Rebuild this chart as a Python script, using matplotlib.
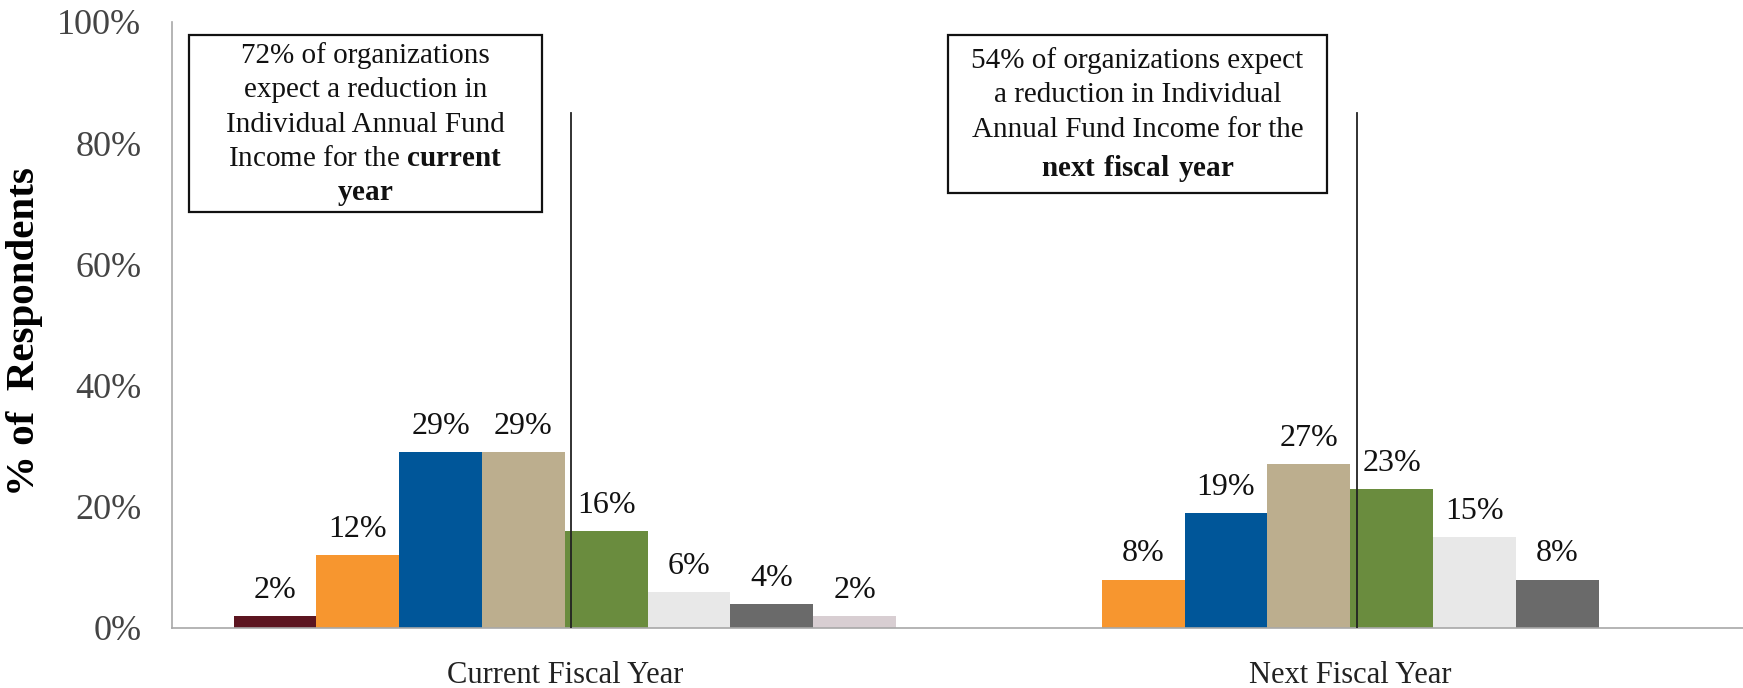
import matplotlib.pyplot as plt
from matplotlib.patches import Rectangle

plt.rcParams['font.family'] = 'Liberation Serif'
plt.rcParams['mathtext.fontset'] = 'custom'
plt.rcParams['mathtext.rm'] = 'Liberation Serif'
plt.rcParams['mathtext.bf'] = 'Liberation Serif:bold'

# Data
categories = ['Current Fiscal Year', 'Next Fiscal Year']
current_values = [2, 12, 29, 29, 16, 6, 4, 2]
current_colors = ['#5C1520', '#F7962F', '#005699', '#BCAE8E',
                  '#6A8C3E', '#E8E8E8', '#6A6A6A', '#D8CED2']
next_values = [8, 19, 27, 23, 15, 8]
next_colors = ['#F7962F', '#005699', '#BCAE8E', '#6A8C3E', '#E8E8E8', '#6A6A6A']
y_ticks = [0, 20, 40, 60, 80, 100]

note_current = ('72% of organizations\nexpect a reduction in\nIndividual Annual Fund\n'
                r'Income for the $\mathbf{current}$' '\n' r'$\mathbf{year}$')
note_next = ('54% of organizations expect\na reduction in Individual\n'
             'Annual Fund Income for the\n' r'$\mathbf{next\ fiscal\ year}$')

BAR_W = 0.1054
cat_pos = [0.5, 1.5]

fig = plt.figure(figsize=(17.43, 6.88), dpi=100)
ax = fig.add_axes([172 / 1743, 60 / 688, 1571 / 1743, 606 / 688])

for c, vals, cols in zip(cat_pos, [current_values, next_values],
                         [current_colors, next_colors]):
    n = len(vals)
    xs = [c + BAR_W * (i - (n - 1) / 2) for i in range(n)]
    bars = ax.bar(xs, vals, width=BAR_W, color=cols, linewidth=0)
    for b, v in zip(bars, vals):
        ax.annotate(f'{v}%', (b.get_x() + b.get_width() / 2, v),
                    xytext=(0, 8), textcoords='offset points',
                    ha='center', va='bottom', fontsize=23, color='#111111')
    # vertical separator through the middle of the group
    ax.plot([c + 0.008, c + 0.008], [0, 85], color='#222222',
            linewidth=1.3, zorder=3)

# annotation boxes
ax.add_patch(Rectangle((0.0216, 68.6), 0.449, 29.3, fill=False,
                       edgecolor='#111111', linewidth=1.6, zorder=4))
ax.add_patch(Rectangle((0.988, 71.8), 0.482, 26.1, fill=False,
                       edgecolor='#111111', linewidth=1.6, zorder=4))
ax.text(0.246, 83.0, note_current, ha='center', va='center', fontsize=21,
        linespacing=1.42, color='#111111')
ax.text(1.229, 84.6, note_next, ha='center', va='center', fontsize=21,
        linespacing=1.42, color='#111111')

ax.set_xlim(0, 2)
ax.set_ylim(0, 100)
ax.set_xticks(cat_pos)
ax.set_xticklabels(categories, fontsize=22, color='#222222')
ax.set_yticks(y_ticks)
ax.set_yticklabels([f'{t}%' for t in y_ticks], fontsize=26, color='#444444')
ax.tick_params(axis='both', length=0)
ax.tick_params(axis='y', pad=22)
ax.tick_params(axis='x', pad=24)

for s in ['top', 'right']:
    ax.spines[s].set_visible(False)
ax.spines['left'].set_color('#A8A8A8')
ax.spines['bottom'].set_color('#A8A8A8')
ax.spines['left'].set_linewidth(1.2)
ax.spines['bottom'].set_linewidth(1.2)

fig.text(25 / 1743, 356 / 688, '% of  Respondents', rotation=90,
         ha='center', va='center', fontsize=29.5, fontweight='bold')

fig.savefig('out.png', dpi=100)
